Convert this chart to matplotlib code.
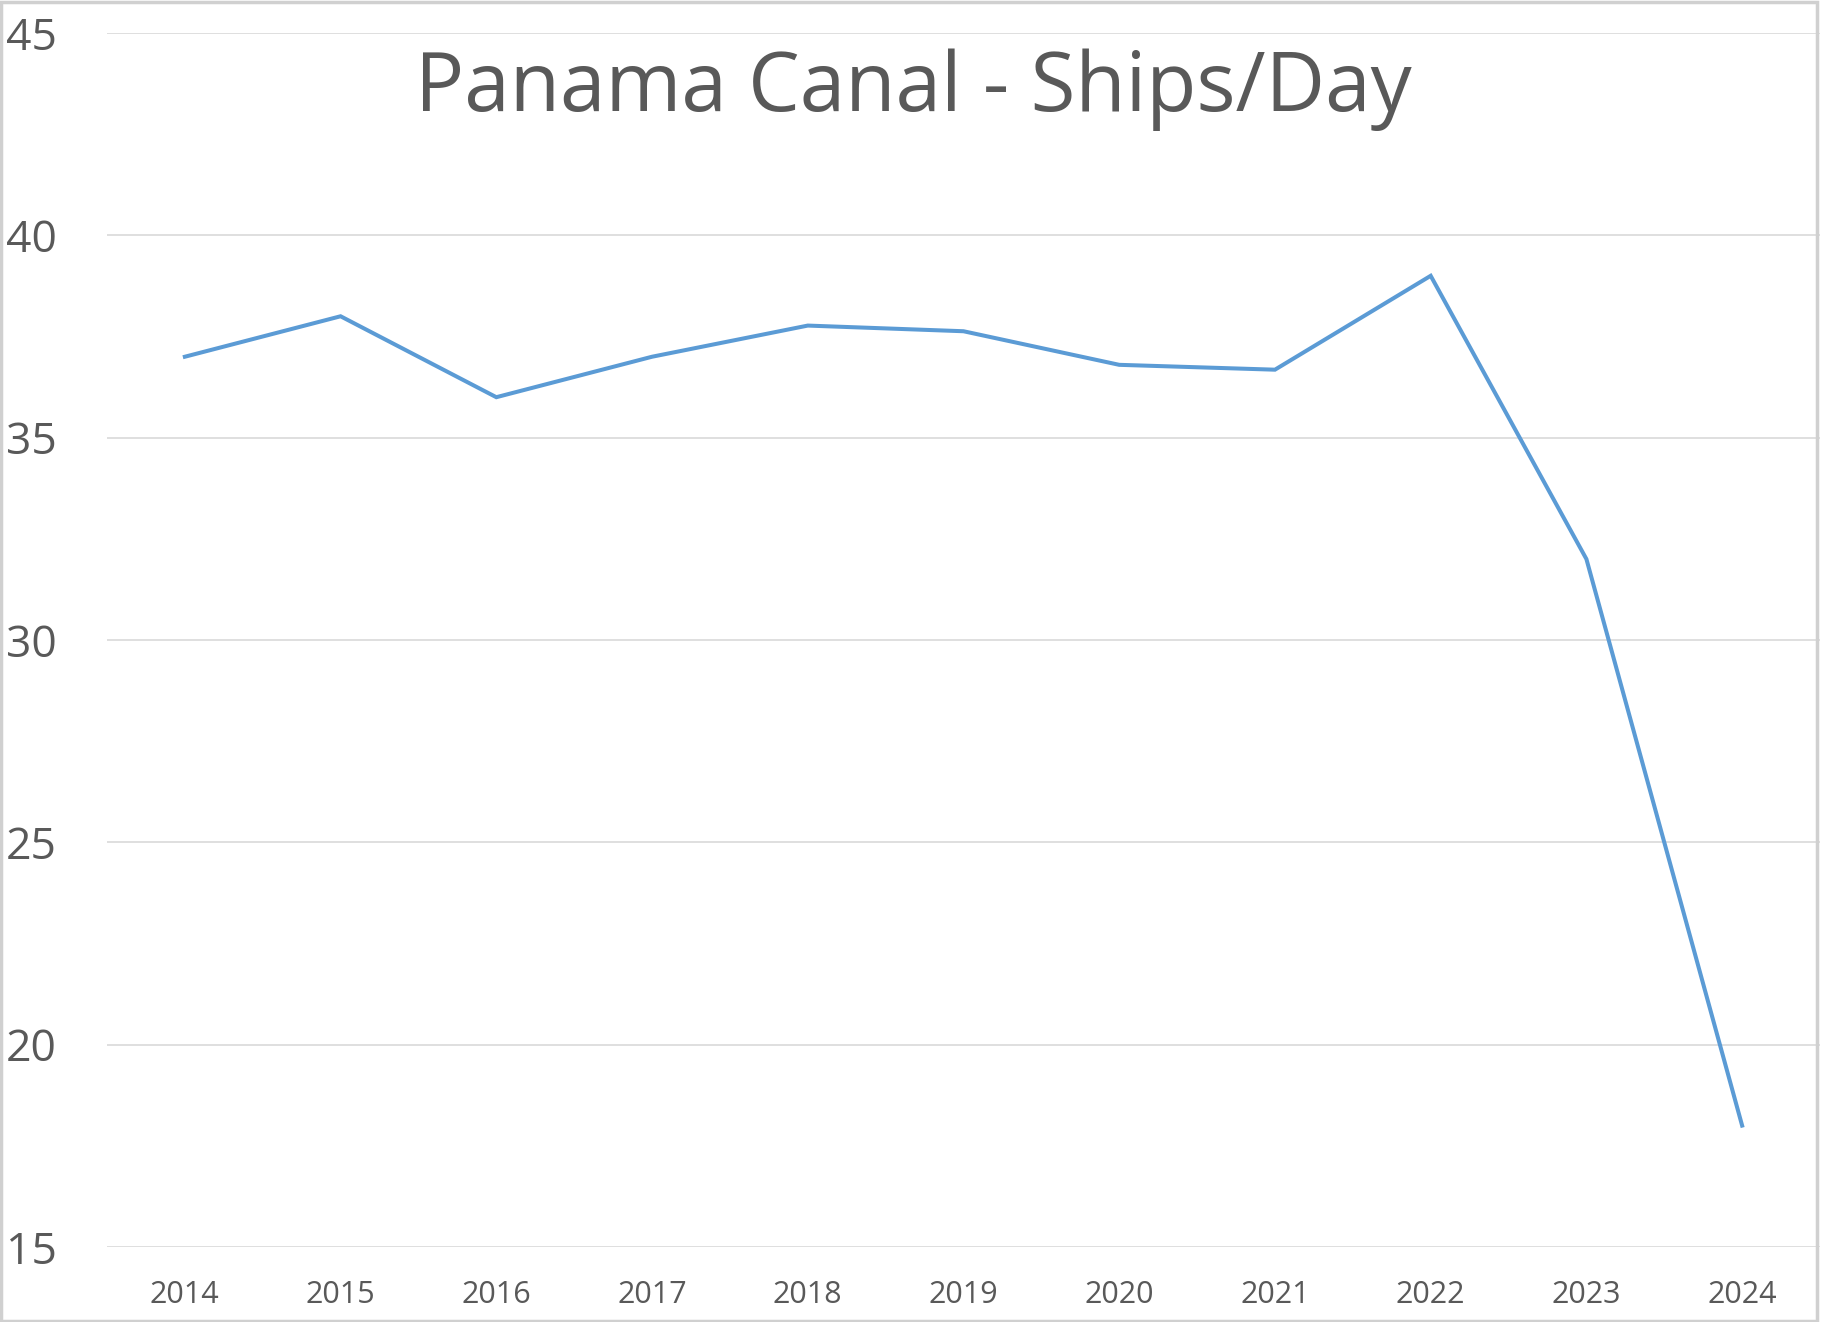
import matplotlib.pyplot as plt
from matplotlib.patches import Rectangle

# Panama Canal ships per day
years = ['2014', '2015', '2016', '2017', '2018', '2019', '2020', '2021', '2022', '2023', '2024']
ships_per_day = [37.0, 38.0, 36.0, 37.0, 37.77, 37.63, 36.8, 36.68, 39.0, 32.0, 18.0]
y_ticks = [15, 20, 25, 30, 35, 40, 45]

plt.rcParams['font.family'] = ['Open Sans', 'DejaVu Sans']

fig = plt.figure(figsize=(18.24, 13.22), dpi=100)
ax = fig.add_axes([107 / 1824, 1 - 1247 / 1322, 1713 / 1824, (1247 - 33) / 1322])

x = list(range(len(years)))
ax.plot(x, ships_per_day, color='#5B9BD5', linewidth=2.9, solid_joinstyle='miter')

ax.set_xlim(-0.5, len(years) - 0.5)
ax.set_ylim(15, 45)
ax.set_yticks(y_ticks)
ax.set_yticklabels([str(t) for t in y_ticks])
ax.set_xticks(x)
ax.set_xticklabels(years)

ax.grid(axis='y', color='#D9D9D9', linewidth=1.2)
ax.set_axisbelow(True)
for s in ax.spines.values():
    s.set_visible(False)

ax.tick_params(axis='y', length=0, labelsize=32, labelcolor='#595959', pad=73)
for lbl in ax.get_yticklabels():
    lbl.set_horizontalalignment('left')
ax.tick_params(axis='x', length=0, labelsize=22, labelcolor='#595959', pad=24)

fig.text(0.5005, 1 - 90 / 1322, 'Panama Canal - Ships/Day', ha='center', va='center',
         fontsize=59, color='#595959')

# chart border
fig.add_artist(Rectangle((1 / 1824, 1 / 1322), 1816 / 1824, 1319 / 1322, transform=fig.transFigure,
                         fill=False, edgecolor='#D0D0D0', linewidth=2.5))

fig.savefig('out.png', dpi=100, facecolor='white')
